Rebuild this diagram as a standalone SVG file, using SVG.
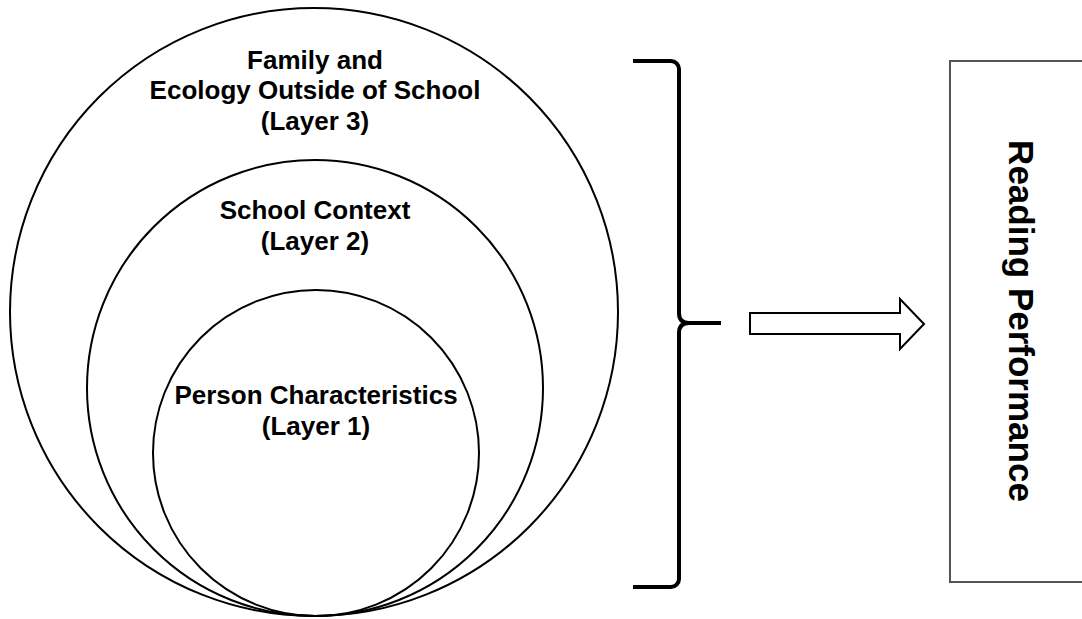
<svg xmlns="http://www.w3.org/2000/svg" width="1082" height="619" viewBox="0 0 1082 619">
<style>
.c{fill:none;stroke:#000;stroke-width:2}
.t{font-family:"Liberation Sans",Arial,sans-serif;font-weight:bold;font-size:26px;fill:#000;text-anchor:middle}
.rp{font-family:"Liberation Sans",Arial,sans-serif;font-weight:bold;font-size:35px;fill:#000;text-anchor:middle}
</style>
<rect width="1082" height="619" fill="#fff"/>
<g id="layer3">
<circle class="c" cx="314" cy="312" r="304"/>
<text class="t" x="315" y="69">Family and</text>
<text class="t" x="315" y="99">Ecology Outside of School</text>
<text class="t" x="315" y="130">(Layer 3)</text>
</g>
<g id="layer2">
<circle class="c" cx="315" cy="388" r="228"/>
<text class="t" x="315" y="219">School Context</text>
<text class="t" x="315" y="250">(Layer 2)</text>
</g>
<g id="layer1">
<circle class="c" cx="316" cy="453" r="163"/>
<text class="t" x="316" y="404">Person Characteristics</text>
<text class="t" x="316" y="435">(Layer 1)</text>
</g>
<g id="connectors">
<path d="M633,61 H671 A8,8 0 0 1 679,69 V313 Q679,323 689,323 H721 M689,323 Q679,323 679,333 V579 A8,8 0 0 1 671,587 H633" fill="none" stroke="#000" stroke-width="4"/>
<polygon points="750,313 900,313 900,299 924,324 900,349 900,334 750,334" fill="#fff" stroke="#000" stroke-width="2"/>
</g>
<g id="reading">
<rect x="950" y="61" width="140" height="521" fill="#fff" stroke="#555" stroke-width="2"/>
<text class="rp" transform="translate(1009,321) rotate(90)" x="0" y="0">Reading Performance</text>
</g>
</svg>
